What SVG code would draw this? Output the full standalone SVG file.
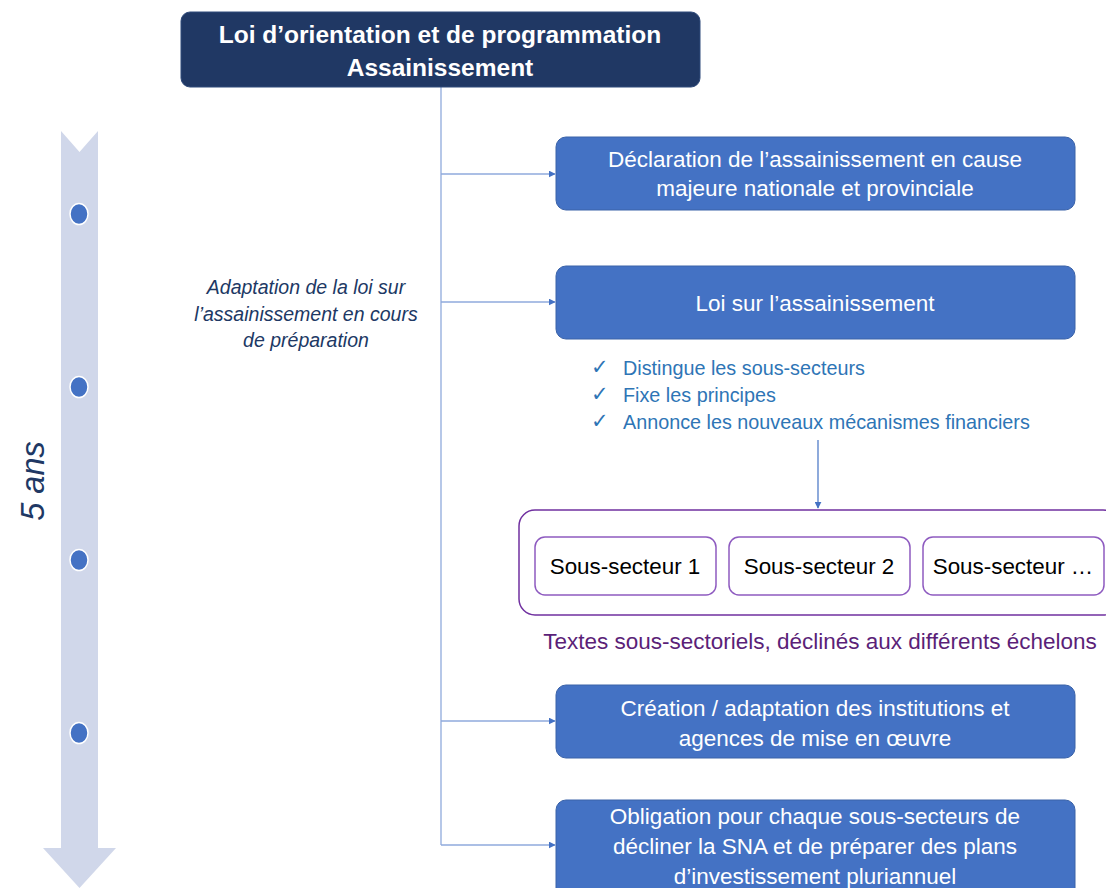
<svg xmlns="http://www.w3.org/2000/svg" width="1106" height="888" viewBox="0 0 1106 888">
<defs>
<style>
.t{font-family:"Liberation Sans",Arial,sans-serif;text-anchor:middle}
.w{fill:#ffffff;font-size:22.5px}
.box{fill:#4472c4;stroke:#3a62a8;stroke-width:1}
.sub{fill:#ffffff;stroke:#8e5bc0;stroke-width:1.5}
.conn{stroke:#8faadc;stroke-width:1.3;fill:none}
.chk{font-family:"Liberation Sans",Arial,sans-serif;font-size:19.8px;fill:#2e75b6}
.mk{font-family:"DejaVu Sans",sans-serif;font-size:21px;fill:#2e75b6}
.it{font-size:19.5px;font-style:italic;fill:#203864}
.ss{font-size:22.4px;fill:#000000}
</style>
<marker id="ah" viewBox="0 0 10 10" refX="9" refY="5" markerWidth="7" markerHeight="7" orient="auto" markerUnits="userSpaceOnUse">
<path d="M0,0 L10,5 L0,10 z" fill="#4472c4"/>
</marker>
</defs>
<rect width="1106" height="888" fill="#ffffff"/>

<g id="timeline">
<path d="M61,131 L79.5,152 L98,131 L98,848 L116,848 L79.5,888 L43,848 L61,848 Z" fill="#d0d7ea"/>
<g fill="#4472c4" stroke="#ffffff" stroke-width="1.5">
<ellipse cx="79" cy="214" rx="9" ry="10.5"/>
<ellipse cx="79" cy="387" rx="9" ry="10.5"/>
<ellipse cx="79" cy="560" rx="9" ry="10.5"/>
<ellipse cx="79" cy="733" rx="9" ry="10.5"/>
</g>
<text class="t" transform="translate(44,481) rotate(-90)" style="font-size:32.5px;font-style:italic;fill:#203864">5 ans</text>
</g>

<g id="connectors">
<path class="conn" d="M441,87 L441,845"/>
<path class="conn" d="M441,174 L555,174" marker-end="url(#ah)"/>
<path class="conn" d="M441,302 L555,302" marker-end="url(#ah)"/>
<path class="conn" d="M441,721 L555,721" marker-end="url(#ah)"/>
<path class="conn" d="M441,845 L555,845" marker-end="url(#ah)"/>
<path d="M818,440 L818,508" stroke="#4472c4" stroke-width="1.2" fill="none" marker-end="url(#ah)"/>
</g>

<g id="title">
<rect x="181" y="12" width="519" height="75" rx="9" fill="#203864" stroke="#2f4a7a" stroke-width="1"/>
<text class="t" x="440" y="43" style="font-size:24.5px;font-weight:bold;fill:#ffffff">Loi d’orientation et de programmation</text>
<text class="t" x="440" y="76" style="font-size:24.5px;font-weight:bold;fill:#ffffff">Assainissement</text>
</g>

<g id="note">
<text class="t it" x="306" y="294">Adaptation de la loi sur</text>
<text class="t it" x="306" y="321">l’assainissement en cours</text>
<text class="t it" x="306" y="347">de préparation</text>
</g>

<g id="declaration">
<rect class="box" x="556" y="137" width="519" height="73" rx="10"/>
<text class="t w" x="815" y="167">Déclaration de l’assainissement en cause</text>
<text class="t w" x="815" y="196">majeure nationale et provinciale</text>
</g>

<g id="loi">
<rect class="box" x="556" y="266" width="519" height="73" rx="10"/>
<text class="t w" x="815" y="311">Loi sur l’assainissement</text>
</g>

<g id="checklist">
<text class="mk" x="591" y="374">✓</text>
<text class="chk" x="623" y="375">Distingue les sous-secteurs</text>
<text class="mk" x="591" y="401">✓</text>
<text class="chk" x="623" y="402">Fixe les principes</text>
<text class="mk" x="591" y="428">✓</text>
<text class="chk" x="623" y="429">Annonce les nouveaux mécanismes financiers</text>
</g>

<g id="sous-secteurs">
<rect x="519" y="510" width="600" height="105" rx="16" fill="#ffffff" stroke="#7030a0" stroke-width="1.5"/>
<rect class="sub" x="535" y="537" width="181" height="58" rx="10"/>
<text class="t ss" x="625" y="574">Sous-secteur 1</text>
<rect class="sub" x="729" y="537" width="181" height="58" rx="10"/>
<text class="t ss" x="819" y="574">Sous-secteur 2</text>
<rect class="sub" x="923" y="537" width="181" height="58" rx="10"/>
<text class="t ss" x="1013" y="574">Sous-secteur …</text>
<text class="t" x="820" y="649" style="font-size:22.5px;fill:#5b1f78">Textes sous-sectoriels, déclinés aux différents échelons</text>
</g>

<g id="institutions">
<rect class="box" x="556" y="685" width="519" height="73" rx="10"/>
<text class="t w" x="815" y="716">Création / adaptation des institutions et</text>
<text class="t w" x="815" y="746">agences de mise en œuvre</text>
</g>

<g id="obligation">
<rect class="box" x="556" y="800" width="519" height="100" rx="10"/>
<text class="t w" x="815" y="824">Obligation pour chaque sous-secteurs de</text>
<text class="t w" x="815" y="854">décliner la SNA et de préparer des plans</text>
<text class="t w" x="815" y="884">d’investissement pluriannuel</text>
</g>
</svg>
